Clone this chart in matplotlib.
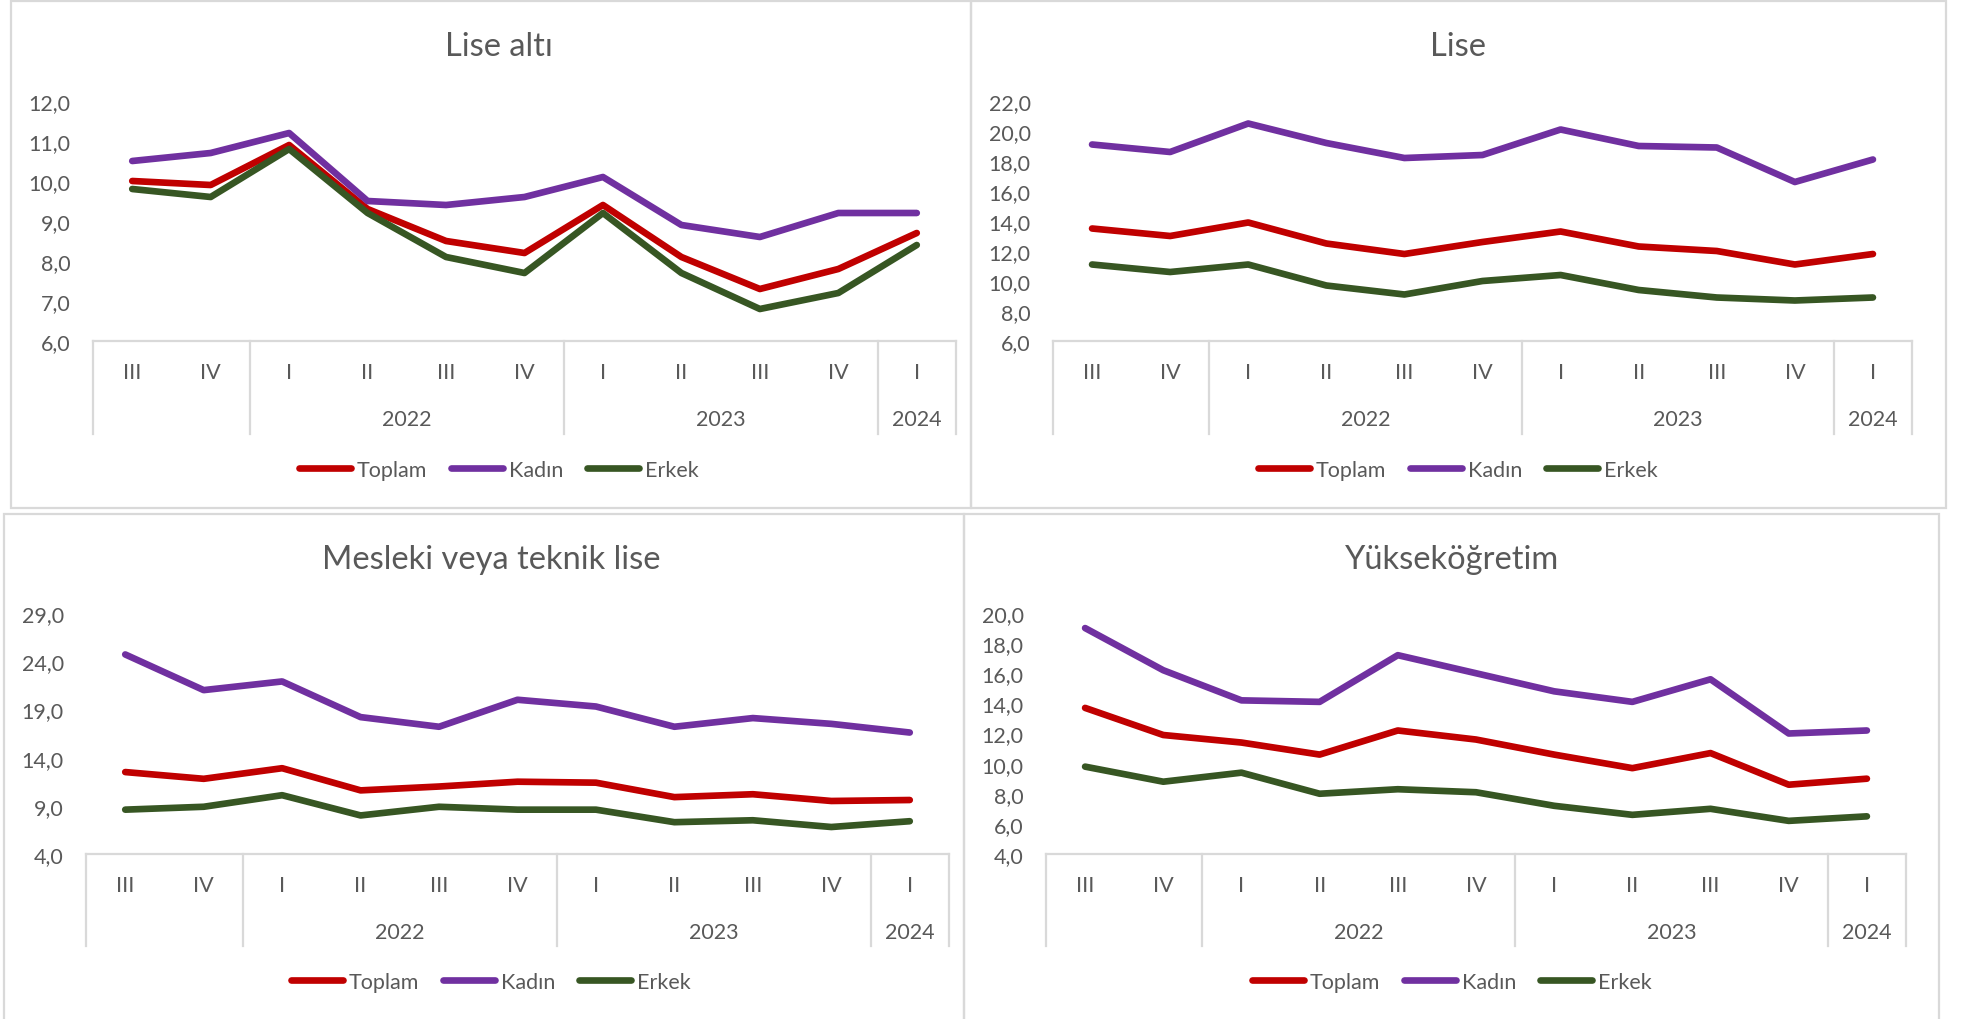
import matplotlib
matplotlib.use("Agg")
import matplotlib.pyplot as plt
from matplotlib.patches import Rectangle
from matplotlib.lines import Line2D
import matplotlib.transforms as mtransforms

plt.rcParams['font.family'] = ['Lato', 'DejaVu Sans']

quarters = ["III", "IV", "I", "II", "III", "IV", "I", "II", "III", "IV", "I"]
years = ["", "2022", "2023", "2024"]
year_spans = [(0, 1), (2, 5), (6, 9), (10, 10)]
series_names = ["Toplam", "Kadın", "Erkek"]
colors = ["#C00000", "#7030A0", "#375623"]

# Lise altı
la_toplam = [10.0, 9.9, 10.9, 9.3, 8.5, 8.2, 9.4, 8.1, 7.3, 7.8, 8.7]
la_kadin = [10.5, 10.7, 11.2, 9.5, 9.4, 9.6, 10.1, 8.9, 8.6, 9.2, 9.2]
la_erkek = [9.8, 9.6, 10.8, 9.2, 8.1, 7.7, 9.2, 7.7, 6.8, 7.2, 8.4]
# Lise
l_toplam = [13.5, 13.0, 13.9, 12.5, 11.8, 12.6, 13.3, 12.3, 12.0, 11.1, 11.8]
l_kadin = [19.1, 18.6, 20.5, 19.2, 18.2, 18.4, 20.1, 19.0, 18.9, 16.6, 18.1]
l_erkek = [11.1, 10.6, 11.1, 9.7, 9.1, 10.0, 10.4, 9.4, 8.9, 8.7, 8.9]
# Mesleki veya teknik lise
m_toplam = [12.5, 11.8, 12.9, 10.6, 11.0, 11.5, 11.4, 9.9, 10.2, 9.5, 9.6]
m_kadin = [24.7, 21.0, 21.9, 18.2, 17.2, 20.0, 19.3, 17.2, 18.1, 17.5, 16.6]
m_erkek = [8.6, 8.9, 10.1, 8.0, 8.9, 8.6, 8.6, 7.3, 7.5, 6.8, 7.4]
# Yükseköğretim
y_toplam = [13.7, 11.9, 11.4, 10.6, 12.2, 11.6, 10.6, 9.7, 10.7, 8.6, 9.0]
y_kadin = [19.0, 16.2, 14.2, 14.1, 17.2, 16.0, 14.8, 14.1, 15.6, 12.0, 12.2]
y_erkek = [9.8, 8.8, 9.4, 8.0, 8.3, 8.1, 7.2, 6.6, 7.0, 6.2, 6.5]

W, H = 1966, 1020
fig = plt.figure(figsize=(W / 100, H / 100), dpi=100)

TXT = "#595959"
GRID = "#D9D9D9"
FS = 15.5

panels = [
    dict(title="Lise altı", data=[la_toplam, la_kadin, la_erkek], yt=(6, 12, 1),
         box=(11, 2, 971, 509), plot=(93, 102, 956, 342), cx=499,
         title_y=47, cat_y=373, year_y=420, div_bot=435, leg_y=471),
    dict(title="Lise", data=[l_toplam, l_kadin, l_erkek], yt=(6, 22, 2),
         box=(971, 2, 1946, 509), plot=(1053, 102, 1912, 342), cx=1458,
         title_y=47, cat_y=373, year_y=420, div_bot=435, leg_y=471),
    dict(title="Mesleki veya teknik lise", data=[m_toplam, m_kadin, m_erkek], yt=(4, 29, 5),
         box=(4, 515, 964, 1022), plot=(86, 614, 949, 855), cx=491,
         title_y=560, cat_y=886, year_y=933, div_bot=947, leg_y=983),
    dict(title="Yükseköğretim", data=[y_toplam, y_kadin, y_erkek], yt=(4, 20, 2),
         box=(964, 515, 1939, 1022), plot=(1046, 614, 1906, 855), cx=1452,
         title_y=560, cat_y=886, year_y=933, div_bot=947, leg_y=983),
]


def fx(x):
    return x / W


def fy(y):
    return 1 - y / H


for p in panels:
    x0, y0, x1, y1 = p["box"]
    fig.patches.append(Rectangle((fx(x0), fy(y1)), fx(x1 - x0), (y1 - y0) / H,
                                 transform=fig.transFigure, fill=False,
                                 edgecolor=GRID, lw=1.6, zorder=0))
    px0, py0, px1, py1 = p["plot"]
    ax = fig.add_axes([fx(px0), fy(py1), fx(px1 - px0), (py1 - py0) / H])
    n = len(quarters)
    xs = list(range(n))
    for vals, c in zip(p["data"], colors):
        ax.plot(xs, vals, color=c, lw=4.8, solid_capstyle="round", solid_joinstyle="round")
    lo, hi, st = p["yt"]
    ax.set_ylim(lo, hi)
    ax.set_xlim(-0.5, n - 0.5)
    ticks = list(range(lo, hi + 1, st))
    ax.set_yticks(ticks)
    ax.set_yticklabels([f"{t:.1f}".replace(".", ",") for t in ticks], color=TXT, fontsize=FS)
    ax.tick_params(axis="y", length=0, pad=16)
    ax.set_xticks([])
    for s in ["left", "right", "top"]:
        ax.spines[s].set_visible(False)
    ax.spines["bottom"].set_color(GRID)
    ax.spines["bottom"].set_linewidth(1.6)
    ax.set_facecolor("none")

    ph = py1 - py0
    trans = mtransforms.blended_transform_factory(ax.transData, ax.transAxes)
    cat_ay = -(p["cat_y"] - py1) / ph
    year_ay = -(p["year_y"] - py1) / ph
    div_ay = -(p["div_bot"] - py1) / ph
    for i, q in enumerate(quarters):
        ax.text(i, cat_ay, q, transform=trans, ha="center", va="center",
                color=TXT, fontsize=FS)
    for yl, (a, b) in zip(years, year_spans):
        ax.text((a + b) / 2, year_ay, yl, transform=trans, ha="center", va="center",
                color=TXT, fontsize=FS)
    for xb in [-0.5, 1.5, 5.5, 9.5, 10.5]:
        ax.add_line(Line2D([xb, xb], [0, div_ay], transform=trans, color=GRID,
                           lw=1.6, clip_on=False))

    fig.text(fx(p["cx"]), fy(p["title_y"]), p["title"], ha="center", va="center",
             color=TXT, fontsize=23.5)
    handles = [Line2D([], [], color=c, lw=4.8, solid_capstyle="round") for c in colors]
    fig.legend(handles, series_names, loc="center", bbox_to_anchor=(fx(p["cx"]), fy(p["leg_y"])),
               ncol=3, frameon=False, fontsize=FS, handlelength=2.4, handletextpad=0.3,
               columnspacing=1.1, labelcolor=TXT)

fig.savefig("out.png", dpi=100, facecolor="white")
